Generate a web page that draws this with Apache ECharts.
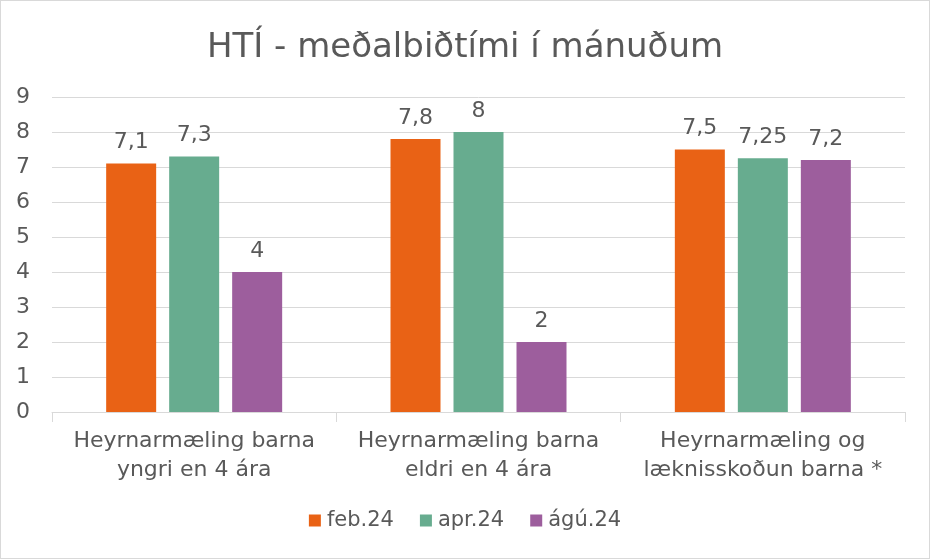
<!DOCTYPE html>
<html><head><meta charset="utf-8">
<script src="https://cdn.jsdelivr.net/npm/echarts@6/dist/echarts.min.js"></script>
<style>html,body{margin:0;padding:0;background:#fff}#c{position:absolute;left:0;top:0;width:928px;height:557px;border:1px solid #d9d9d9;}</style>
</head><body><div id="c"></div>
<script>
const categories = ["Heyrnarmæling barna\nyngri en 4 ára", "Heyrnarmæling barna\neldri en 4 ára", "Heyrnarmæling og\nlæknisskoðun barna *"];
const seriesNames = ["feb.24", "apr.24", "ágú.24"];
const feb24 = [7.1, 7.8, 7.5];
const apr24 = [7.3, 8, 7.25];
const agu24 = [4, 2, 7.2];
const colors = ["#E96215", "#67AC8F", "#9D5E9D"];
const font = "'DejaVu Sans', sans-serif";
const chart = echarts.init(document.getElementById('c'), null, {renderer:'canvas'});
const mk = (name, data, color) => ({
  name, type:'bar', data, barWidth: 50, barGap: '26%',
  itemStyle:{color},
  label:{show:true, position:'top', distance:10, color:'#595959', fontSize:22, fontFamily:font,
    formatter:p => String(p.value).replace('.', ',')}
});
chart.setOption({
  animation:false,
  title:{text:'HTÍ - meðalbiðtími í mánuðum', left:'center', top:25,
    textStyle:{color:'#595959', fontSize:34, fontWeight:'normal', fontFamily:font}},
  legend:{bottom:22, left:'center', itemWidth:12, itemHeight:12, itemGap:26,
    icon:'rect', textStyle:{color:'#595959', fontSize:21, fontFamily:font, padding:[0,0,0,1]},
    data:seriesNames},
  grid:{left:51, right:24, top:96, bottom:146},
  xAxis:{type:'category', data:categories,
    axisLine:{lineStyle:{color:'#d9d9d9'}},
    axisTick:{show:true, length:10, lineStyle:{color:'#d9d9d9'}},
    axisLabel:{color:'#595959', fontSize:22, fontFamily:font, lineHeight:29, margin:15, interval:0, hideOverlap:false}},
  yAxis:{type:'value', min:0, max:9, interval:1,
    axisLine:{show:false}, axisTick:{show:false},
    splitLine:{lineStyle:{color:'#d9d9d9'}},
    axisLabel:{color:'#595959', fontSize:22, fontFamily:font, margin:22}},
  series:[mk(seriesNames[0], feb24, colors[0]), mk(seriesNames[1], apr24, colors[1]), mk(seriesNames[2], agu24, colors[2])]
});
</script></body></html>
